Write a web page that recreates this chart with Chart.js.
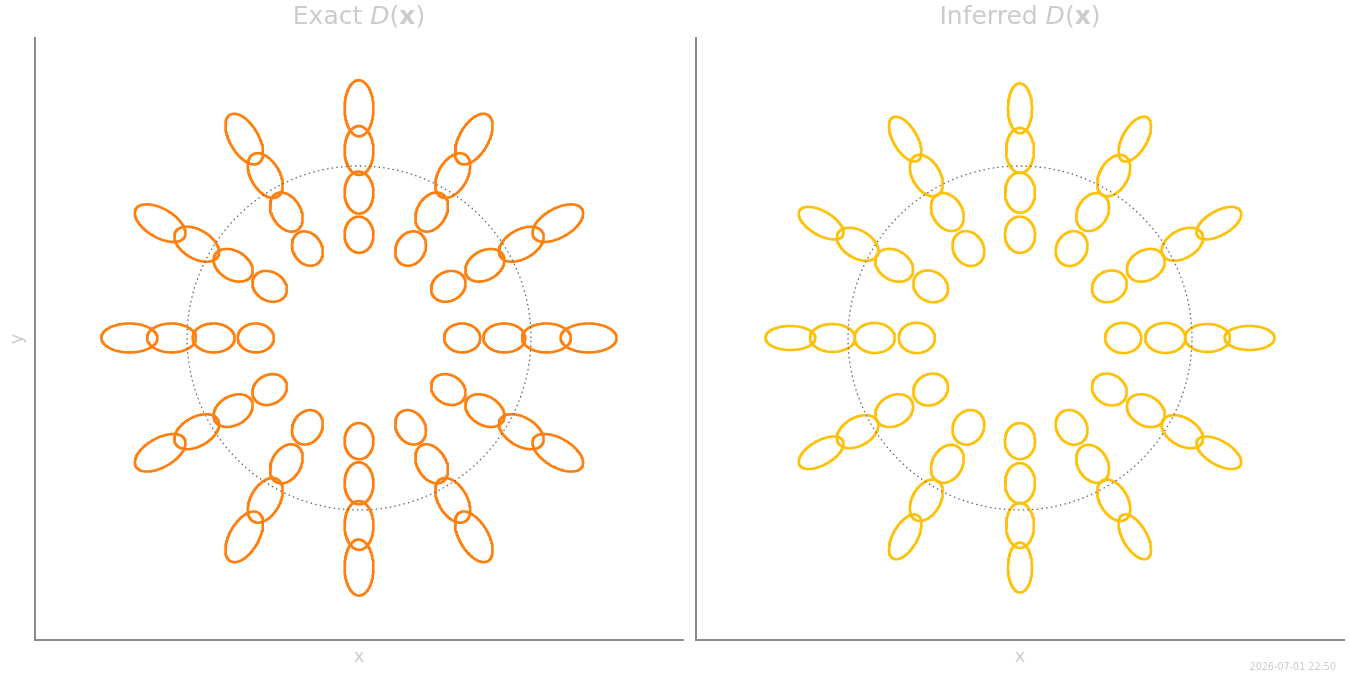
<!DOCTYPE html>
<html>
<head>
<meta charset="utf-8">
<script src="https://cdn.jsdelivr.net/npm/chart.js@4.4.0/dist/chart.umd.min.js"></script>
<style>
  body { margin: 0; width: 1350px; height: 675px; background: #fff; position: relative; overflow: hidden; font-family: "DejaVu Sans", sans-serif; }
  .panel { position: absolute; top: 0; height: 675px; }
  .title { position: absolute; top: 1px; font-size: 25px; color: #cccccc; transform: translateX(-50%); white-space: nowrap; }
  .title i { font-style: italic; }
  .title b { font-weight: bold; }
  #stamp { position: absolute; right: 14px; top: 661px; font-size: 9.6px; color: #cccccc; }
</style>
</head>
<body>
<div class="panel" style="left:0; width:690px;"><canvas id="exactChart"></canvas></div>
<div class="panel" style="left:690px; width:660px;"><canvas id="inferredChart"></canvas></div>
<div class="title" style="left:359px;">Exact <i>D</i>(<b>x</b>)</div>
<div class="title" style="left:1020px;">Inferred <i>D</i>(<b>x</b>)</div>
<div id="stamp">2026-07-01 22:50</div>
<script>
// directions of the 12 rays (degrees) and distance of each ring from the centre
const rayAngles = [0, 30, 60, 90, 120, 150, 180, 210, 240, 270, 300, 330];
const ringRadii = [0.60, 0.845, 1.09, 1.335];
const unitCircleRadius = 1;

// ellipse semi-axes per ring: along the ray / across the ray
const exactRadialSemi = [0.105, 0.122, 0.142, 0.163];
const exactTangentSemi = [0.084, 0.084, 0.084, 0.084];
const inferredRadialSemi = [0.105, 0.117, 0.131, 0.145];
const inferredTangentSemi = [0.088, 0.087, 0.081, 0.070];

const xRange = [-1.884, 1.884];
const yRange = [-1.756, 1.744];

// outline of an ellipse centred on a ray
function ellipsePts(r, deg, a, b, n) {
  const th = deg * Math.PI / 180;
  const cx = r * Math.cos(th), cy = r * Math.sin(th);
  const pts = [];
  for (let i = 0; i <= n; i++) {
    const t = 2 * Math.PI * i / n;
    const u = a * Math.cos(t), v = b * Math.sin(t);
    pts.push({ x: cx + u * Math.cos(th) - v * Math.sin(th), y: cy + u * Math.sin(th) + v * Math.cos(th) });
  }
  return pts;
}

function buildDatasets(radial, tangent, color) {
  const sets = [];
  const circle = ellipsePts(0, 0, unitCircleRadius, unitCircleRadius, 240);
  sets.push({ data: circle, showLine: true, pointRadius: 0, borderColor: "#666666", borderWidth: 1.3, borderDash: [1.5, 3.2] });
  rayAngles.forEach(deg => {
    ringRadii.forEach((r, k) => {
      sets.push({
        data: ellipsePts(r, deg, radial[k], tangent[k], 180),
        showLine: true, pointRadius: 0, borderColor: color, borderWidth: 2.6,
        borderCapStyle: "round", borderJoinStyle: "round"
      });
    });
  });
  return sets;
}

function makeChart(id, datasets, showY, padding) {
  return new Chart(document.getElementById(id), {
    type: "scatter",
    data: { datasets },
    options: {
      responsive: true,
      maintainAspectRatio: false,
      animation: false,
      layout: { padding },
      plugins: { legend: { display: false }, tooltip: { enabled: false } },
      scales: {
        x: {
          type: "linear", min: xRange[0], max: xRange[1],
          grid: { display: false, drawTicks: false },
          border: { display: true, color: "#8c8c8c", width: 2 },
          ticks: { display: false },
          title: { display: true, text: "x", color: "#cccccc", font: { family: "DejaVu Sans", size: 18 }, padding: { top: 7, bottom: 1 } }
        },
        y: {
          type: "linear", min: yRange[0], max: yRange[1],
          grid: { display: false, drawTicks: false },
          border: { display: true, color: "#8c8c8c", width: 2 },
          ticks: { display: false },
          title: { display: showY, text: "y", color: "#cccccc", font: { family: "DejaVu Sans", size: 18 }, padding: { top: 1, bottom: 7 } }
        }
      }
    }
  });
}

makeChart("exactChart", buildDatasets(exactRadialSemi, exactTangentSemi, "#ff7f0e"), true,
  { left: 5.4, right: 7, top: 38, bottom: 5.4 });
makeChart("inferredChart", buildDatasets(inferredRadialSemi, inferredTangentSemi, "#ffc107"), false,
  { left: 6, right: 6, top: 38, bottom: 5.4 });
</script>
</body>
</html>
